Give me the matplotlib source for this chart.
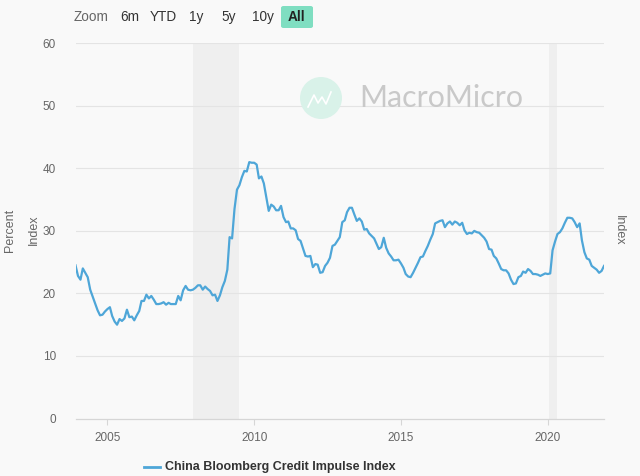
import matplotlib
matplotlib.use("Agg")
import matplotlib.pyplot as plt
import matplotlib.patches as mpatches
import pandas as pd

# ---------------- data ----------------
start_month = "2003-12-01"
values = [
    24.5, 22.8, 22.2, 24.0, 23.3, 22.6, 20.6, 19.5, 18.4, 17.3,
    16.5, 16.6, 17.1, 17.5, 17.8, 16.4, 15.5, 15.0, 15.9, 15.6,
    16.0, 17.4, 16.2, 16.3, 15.7, 16.5, 17.2, 18.8, 18.8, 19.8,
    19.2, 19.6, 19.0, 18.3, 18.3, 18.4, 18.6, 18.2, 18.5, 18.3,
    18.3, 18.3, 19.6,
    18.9, 20.5, 21.2, 20.6, 20.5, 20.6, 20.9, 21.3, 21.3, 20.6,
    21.1, 20.7, 20.4, 19.7, 19.8, 18.8, 19.7, 21.0, 22.0, 23.8,
    29.0, 28.8, 33.5, 36.6, 37.3, 38.6, 39.6, 39.5, 41.0, 40.9,
    40.9, 40.6, 38.4, 38.7, 37.6, 35.4, 33.2, 34.2, 33.9, 33.3,
    33.3, 34.0, 32.2, 31.4, 31.5, 30.4, 30.4, 30.1, 28.7, 28.4,
    27.2, 26.0, 25.9, 26.0, 24.2, 24.7, 24.6, 23.3, 23.4, 24.4,
    24.9, 25.7, 27.6, 27.8, 28.4, 29.0, 31.4, 31.7, 33.0, 33.7,
    33.7, 32.6, 31.6, 32.0, 31.5,
    30.2, 30.3, 29.6, 29.2, 28.8, 28.0, 27.1, 27.4, 28.9, 27.3,
    26.4, 25.9, 25.3, 25.3, 25.4, 24.8, 24.1, 23.1, 22.7, 22.6,
    23.3, 24.1, 24.9, 25.8, 25.9, 26.8, 27.6, 28.6, 29.5, 31.2,
    31.4, 31.6, 31.7, 30.6, 31.2, 31.5, 31.0, 31.5, 31.3,
    30.9, 31.3, 30.1, 29.5, 29.7, 29.6, 30.0, 29.8, 29.7, 29.3,
    28.9, 28.3, 27.1, 27.0, 26.0, 25.6, 24.8, 23.9, 23.7, 23.7,
    23.2, 22.2, 21.5, 21.6, 22.6, 22.8, 23.5, 23.3, 23.9, 23.6,
    23.1, 23.1, 23.0, 22.8, 23.0, 23.2, 23.1,
    23.2, 26.9, 28.3, 29.5, 29.8, 30.4, 31.3, 32.1, 32.1, 32.0,
    31.4, 30.6, 31.2, 28.5, 26.6, 25.6, 25.4, 24.4, 24.1, 23.8,
    23.3, 23.6, 24.4,
]
series_name = "China Bloomberg Credit Impulse Index"
recession_starts = ["2007-12-01", "2020-01-20"]
recession_ends = ["2009-06-20", "2020-04-28"]
y_ticks = [0, 10, 20, 30, 40, 50, 60]
x_tick_years = [2005, 2010, 2015, 2020]
zoom_labels = ["Zoom", "6m", "YTD", "1y", "5y", "10y", "All"]

dates = pd.date_range(start_month, periods=len(values), freq="MS")

# ---------------- style ----------------
BG = "#f9f9f9"
LINE = "#4ea6d8"
FONT = ["Liberation Sans", "DejaVu Sans"]
plt.rcParams["font.family"] = FONT

W, H = 640, 476
fig = plt.figure(figsize=(W / 100, H / 100), dpi=100, facecolor=BG)

def fx(px):
    return px / W

def fy(py):
    return 1 - py / H

left, right, top, bottom = 75.5, 604.0, 43.3, 418.5
ax = fig.add_axes([fx(left), fy(bottom), fx(right) - fx(left), (bottom - top) / H])
ax.set_facecolor(BG)

for s, e in zip(recession_starts, recession_ends):
    ax.axvspan(pd.Timestamp(s), pd.Timestamp(e), color="#efefef", zorder=0, lw=0)

for t in y_ticks[1:]:
    ax.axhline(t, color="#e4e4e4", lw=0.8, zorder=1)

ax.plot(dates, values, color=LINE, lw=1.6, zorder=3, solid_joinstyle="round")

ax.set_xlim(dates[0], dates[-1])
ax.set_ylim(0, 60)
ax.set_yticks(y_ticks)
ax.set_yticklabels([str(t) for t in y_ticks])
ax.set_xticks([pd.Timestamp(f"{y}-01-01") for y in x_tick_years])
ax.set_xticklabels([str(y) for y in x_tick_years])

for sp in ["top", "right", "left"]:
    ax.spines[sp].set_visible(False)
ax.spines["bottom"].set_color("#d6d6d6")
ax.spines["bottom"].set_linewidth(0.9)
ax.tick_params(axis="y", length=0, pad=14, labelsize=8.5, labelcolor="#666666")
ax.tick_params(axis="x", length=4, width=0.8, color="#d6d6d6", pad=6,
               labelsize=8.5, labelcolor="#666666")

# axis titles
fig.text(fx(10), fy(230), "Percent", rotation=90, ha="center", va="center",
         fontsize=9, color="#666666")
fig.text(fx(34), fy(230), "Index", rotation=90, ha="center", va="center",
         fontsize=9, color="#666666")
fig.text(fx(619), fy(230), "Index", rotation=270, ha="center", va="center",
         fontsize=9, color="#666666")

# zoom buttons
zoom_x = [91, 130, 163, 196, 229, 263, 296]
btn = mpatches.FancyBboxPatch((fx(281), fy(28)), fx(313) - fx(281), (28 - 6) / H,
                              boxstyle="round,pad=0,rounding_size=0.004",
                              transform=fig.transFigure, facecolor="#7fdec1",
                              edgecolor="none")
fig.patches.append(btn)
for lbl, x in zip(zoom_labels, zoom_x):
    fig.text(fx(x), fy(17), lbl, ha="center", va="center", fontsize=9.8,
             color="#666666" if lbl == "Zoom" else ("#222222" if lbl == "All" else "#333333"),
             fontweight="bold" if lbl == "All" else "normal")

# watermark
circ = mpatches.Ellipse((fx(321), fy(98)), 42 / W, 42 / H, transform=fig.transFigure,
                        facecolor="#d9f2e9", edgecolor="none")
fig.patches.append(circ)
icon_x = [308, 314, 318, 322, 326, 331]
icon_y = [107, 95, 103, 97, 104, 92]
fig.lines.append(plt.Line2D([fx(v) for v in icon_x], [fy(v) for v in icon_y],
                            transform=fig.transFigure, color="white", lw=1.2))
fig.text(fx(359), fy(98), "MacroMicro", ha="left", va="center", fontsize=21.8,
         color="#c9c9c9", family=["Lato", "DejaVu Sans"], fontweight="normal")

# legend
fig.lines.append(plt.Line2D([fx(144), fx(160)], [fy(467), fy(467)],
                            transform=fig.transFigure, color=LINE, lw=2))
fig.text(fx(165), fy(467), series_name, ha="left", va="center", fontsize=9.0,
         color="#333333", fontweight="bold")

fig.savefig("out.png", dpi=100, facecolor=BG)
